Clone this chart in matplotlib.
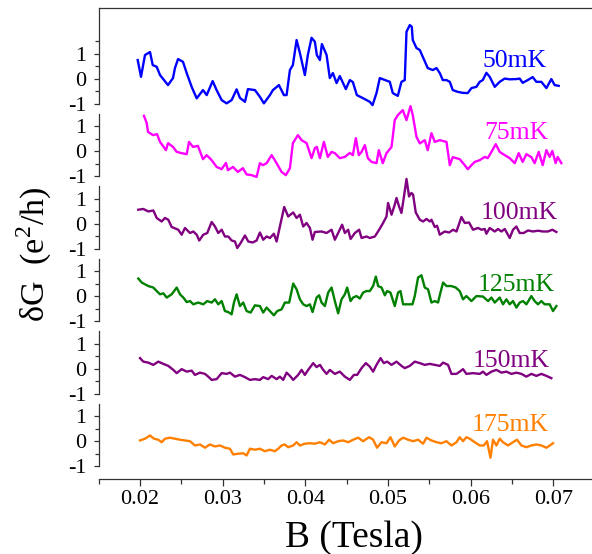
import matplotlib
matplotlib.use("Agg")
import matplotlib.pyplot as plt
from matplotlib.ticker import FixedLocator, FormatStrFormatter

# conductance fluctuation traces, one per temperature (B in tesla, dG in e^2/h)
b_50 = [0.01972, 0.02012, 0.02060, 0.02121, 0.02154, 0.02202, 0.02242, 0.02339, 0.02399, 0.02423,
        0.02460, 0.02520, 0.02565, 0.02625, 0.02686, 0.02762, 0.02807, 0.02879, 0.02927, 0.02988,
        0.03048, 0.03109, 0.03169, 0.03209, 0.03270, 0.03306, 0.03391, 0.03451, 0.03499, 0.03572,
        0.03608, 0.03681, 0.03741, 0.03774, 0.03814, 0.03850, 0.03895, 0.03935, 0.03995, 0.04031,
        0.04076, 0.04116, 0.04140, 0.04177, 0.04201, 0.04258, 0.04297, 0.04334, 0.04379, 0.04418,
        0.04491, 0.04539, 0.04576, 0.04624, 0.04697, 0.04781, 0.04814, 0.04862, 0.04902, 0.05023,
        0.05059, 0.05120, 0.05164, 0.05204, 0.05225, 0.05265, 0.05289, 0.05301, 0.05346, 0.05386,
        0.05422, 0.05482, 0.05543, 0.05588, 0.05628, 0.05664, 0.05709, 0.05749, 0.05785, 0.05845,
        0.05906, 0.05966, 0.06011, 0.06071, 0.06111, 0.06148, 0.06192, 0.06232, 0.06293, 0.06353,
        0.06414, 0.06474, 0.06555, 0.06595, 0.06631, 0.06692, 0.06752, 0.06797, 0.06857, 0.06918,
        0.06978, 0.07018, 0.07067]
dg_50 = [0.74, 0.07, 0.94, 1.06, 0.54, 0.47, 0.14, -0.26, 0.02, 0.42,
         0.78, 0.67, 0.22, -0.33, -0.79, -0.46, -0.66, -0.10, -0.46, -0.86,
         -0.99, -0.86, -0.43, -0.77, -0.93, -0.42, -0.46, -0.73, -0.99, -0.66,
         -0.46, -0.26, -0.66, -0.66, 0.34, 0.54, 1.54, 1.02, 0.14, 0.94,
         1.63, 1.47, 0.94, 0.74, 1.38, 0.94, 0.02, 0.22, -0.18, 0.10,
         -0.42, -0.06, -0.14, -0.66, -0.78, -0.93, -1.06, -0.58, 0.02, -0.13,
         -0.58, -0.69, -0.13, -0.06, 1.87, 2.14, 2.07, 1.54, 1.22, 1.14,
         0.87, 0.42, 0.34, 0.42, 0.22, -0.06, -0.06, -0.13, -0.46, -0.53,
         -0.57, -0.58, -0.38, -0.33, -0.13, -0.06, 0.23, 0.07, -0.33, -0.13,
         0.00, -0.03, -0.02, 0.00, -0.17, -0.06, 0.06, -0.13, -0.13, -0.38,
         -0.02, -0.26, -0.29]

b_75 = [0.02048, 0.02081, 0.02097, 0.02157, 0.02206, 0.02242, 0.02314, 0.02339, 0.02399, 0.02444,
        0.02504, 0.02565, 0.02593, 0.02641, 0.02701, 0.02762, 0.02807, 0.02867, 0.02927, 0.02988,
        0.03040, 0.03064, 0.03125, 0.03185, 0.03245, 0.03290, 0.03351, 0.03411, 0.03451, 0.03487,
        0.03532, 0.03593, 0.03653, 0.03713, 0.03765, 0.03814, 0.03850, 0.03911, 0.03955, 0.04016,
        0.04076, 0.04116, 0.04140, 0.04177, 0.04225, 0.04273, 0.04318, 0.04358, 0.04418, 0.04479,
        0.04539, 0.04576, 0.04612, 0.04648, 0.04681, 0.04721, 0.04757, 0.04802, 0.04862, 0.04890,
        0.04938, 0.04983, 0.05044, 0.05083, 0.05120, 0.05180, 0.05225, 0.05273, 0.05301, 0.05346,
        0.05386, 0.05446, 0.05482, 0.05527, 0.05567, 0.05628, 0.05709, 0.05749, 0.05785, 0.05869,
        0.05930, 0.05966, 0.06011, 0.06051, 0.06111, 0.06172, 0.06208, 0.06253, 0.06305, 0.06353,
        0.06414, 0.06474, 0.06535, 0.06583, 0.06631, 0.06676, 0.06736, 0.06776, 0.06825, 0.06873,
        0.06918, 0.06958, 0.06990, 0.07030, 0.07054, 0.07099]
dg_75 = [1.41, 1.12, 0.77, 0.64, 0.68, 0.37, 0.04, 0.32, 0.17, -0.03,
         -0.08, -0.12, 0.37, 0.17, 0.21, -0.32, -0.16, -0.36, -0.63, -0.72,
         -0.47, -0.76, -0.63, -0.83, -0.68, -0.93, -0.96, -1.03, -0.48, -0.56,
         -0.48, -0.16, -0.48, -0.83, -0.96, -0.68, 0.32, 0.64, 0.44, 0.32,
         -0.28, 0.12, 0.17, -0.28, 0.37, -0.23, -0.03, -0.08, -0.28, -0.23,
         -0.07, -0.16, 0.52, -0.16, -0.03, 0.24, -0.28, -0.43, -0.48, 0.04,
         -0.48, -0.08, 0.17, 1.24, 1.44, 1.64, 1.24, 1.80, 1.44, 0.57,
         0.31, 0.44, 0.04, 0.72, 0.37, 0.44, 0.37, -0.56, -0.24, -0.32,
         -0.56, -0.72, -0.56, -0.43, -0.36, -0.23, -0.28, -0.03, 0.28, -0.03,
         -0.16, -0.28, -0.48, -0.08, -0.43, -0.12, -0.24, -0.48, -0.03, -0.56,
         0.04, -0.23, 0.01, -0.48, -0.23, -0.48]

b_100 = [0.01979, 0.02040, 0.02100, 0.02161, 0.02202, 0.02262, 0.02302, 0.02342, 0.02383, 0.02463,
         0.02504, 0.02544, 0.02605, 0.02645, 0.02686, 0.02717, 0.02765, 0.02814, 0.02867, 0.02907,
         0.02947, 0.02988, 0.03028, 0.03068, 0.03109, 0.03149, 0.03177, 0.03218, 0.03270, 0.03310,
         0.03363, 0.03411, 0.03451, 0.03491, 0.03532, 0.03572, 0.03620, 0.03653, 0.03693, 0.03745,
         0.03793, 0.03854, 0.03895, 0.03935, 0.03975, 0.04016, 0.04056, 0.04088, 0.04116, 0.04197,
         0.04258, 0.04318, 0.04358, 0.04398, 0.04446, 0.04479, 0.04519, 0.04548, 0.04600, 0.04652,
         0.04681, 0.04741, 0.04781, 0.04842, 0.04894, 0.04942, 0.04983, 0.05002, 0.05044, 0.05083,
         0.05104, 0.05135, 0.05164, 0.05192, 0.05225, 0.05256, 0.05285, 0.05305, 0.05337, 0.05386,
         0.05426, 0.05467, 0.05507, 0.05527, 0.05567, 0.05595, 0.05628, 0.05688, 0.05740, 0.05789,
         0.05830, 0.05890, 0.05930, 0.05982, 0.06030, 0.06091, 0.06132, 0.06172, 0.06192, 0.06232,
         0.06293, 0.06333, 0.06374, 0.06414, 0.06474, 0.06514, 0.06555, 0.06595, 0.06643, 0.06695,
         0.06756, 0.06816, 0.06877, 0.06937, 0.06990, 0.07039]
dg_100 = [0.56, 0.59, 0.49, 0.53, 0.23, 0.09, 0.23, 0.16, -0.13, -0.24,
          -0.44, -0.17, -0.37, -0.31, -0.44, -0.67, -0.44, -0.37, 0.07, -0.11,
          -0.37, -0.24, -0.51, -0.51, -0.67, -0.71, -0.97, -0.77, -0.47, -0.71,
          -0.75, -0.67, -0.35, -0.64, -0.51, -0.57, -0.40, -0.71, -0.11, 0.67,
          0.29, 0.45, 0.23, 0.36, -0.11, 0.03, -0.17, -0.64, -0.33, -0.31,
          -0.37, -0.24, -0.64, -0.37, -0.04, -0.37, -0.24, -0.61, -0.37, -0.24,
          -0.57, -0.51, -0.57, -0.51, -0.24, 0.03, 0.29, 0.83, 0.36, 0.76,
          1.03, 0.69, 0.43, 1.03, 1.79, 1.09, 1.23, 1.16, 0.45, 0.16,
          0.09, 0.19, 0.09, 0.16, -0.13, -0.08, -0.44, -0.31, -0.35, -0.24,
          -0.31, 0.27, 0.03, 0.05, -0.24, -0.17, -0.24, -0.21, -0.40, -0.17,
          -0.31, -0.21, -0.31, -0.21, -0.57, -0.24, -0.11, -0.37, -0.37, -0.27,
          -0.31, -0.28, -0.31, -0.31, -0.24, -0.33]

b_125 = [0.01979, 0.02021, 0.02060, 0.02100, 0.02161, 0.02202, 0.02242, 0.02282, 0.02323, 0.02383,
         0.02444, 0.02484, 0.02524, 0.02565, 0.02605, 0.02645, 0.02705, 0.02765, 0.02814, 0.02867,
         0.02907, 0.02947, 0.02988, 0.03028, 0.03068, 0.03109, 0.03137, 0.03169, 0.03209, 0.03249,
         0.03290, 0.03339, 0.03391, 0.03451, 0.03491, 0.03532, 0.03572, 0.03620, 0.03660, 0.03713,
         0.03753, 0.03805, 0.03854, 0.03895, 0.03935, 0.03975, 0.04016, 0.04056, 0.04088, 0.04137,
         0.04168, 0.04197, 0.04237, 0.04277, 0.04318, 0.04358, 0.04398, 0.04439, 0.04479, 0.04507,
         0.04548, 0.04579, 0.04620, 0.04660, 0.04700, 0.04741, 0.04781, 0.04821, 0.04854, 0.04882,
         0.04923, 0.04963, 0.04990, 0.05031, 0.05083, 0.05123, 0.05152, 0.05184, 0.05244, 0.05297,
         0.05325, 0.05365, 0.05406, 0.05446, 0.05486, 0.05527, 0.05567, 0.05607, 0.05636, 0.05668,
         0.05709, 0.05769, 0.05821, 0.05869, 0.05909, 0.05950, 0.06011, 0.06071, 0.06151, 0.06212,
         0.06253, 0.06293, 0.06353, 0.06393, 0.06434, 0.06474, 0.06514, 0.06555, 0.06595, 0.06635,
         0.06676, 0.06736, 0.06776, 0.06816, 0.06857, 0.06897, 0.06958, 0.06998, 0.07039]
dg_125 = [0.71, 0.55, 0.48, 0.41, 0.35, 0.21, 0.08, 0.12, -0.05, 0.08,
          0.35, 0.08, -0.05, -0.23, -0.19, -0.32, -0.25, -0.32, -0.19, -0.25,
          -0.12, -0.32, -0.19, -0.59, -0.63, -0.72, -0.25, 0.08, -0.39, -0.25,
          -0.59, -0.65, -0.36, -0.39, -0.65, -0.45, -0.59, -0.76, -0.59, -0.52,
          -0.25, -0.25, 0.51, 0.28, -0.12, -0.32, -0.39, -0.32, -0.63, -0.05,
          0.04, -0.25, -0.39, 0.15, 0.35, -0.19, -0.68, -0.12, 0.08, 0.35,
          -0.19, -0.05, 0.01, -0.09, 0.15, 0.21, 0.21, 0.41, 0.79, 0.41,
          0.35, 0.04, 0.21, 0.15, -0.39, 0.15, 0.21, -0.32, -0.32, -0.32,
          0.01, 0.75, 0.84, 0.35, 0.28, -0.25, -0.19, -0.25, 0.15, 0.55,
          0.41, 0.41, 0.35, 0.21, -0.12, 0.01, -0.19, 0.01, -0.01, -0.19,
          -0.05, -0.25, -0.05, -0.32, -0.12, -0.32, -0.19, -0.45, -0.25, -0.19,
          -0.32, 0.01, -0.19, -0.32, -0.19, -0.32, -0.32, -0.59, -0.39]

b_150 = [0.02000, 0.02040, 0.02100, 0.02161, 0.02221, 0.02282, 0.02342, 0.02403, 0.02444, 0.02504,
         0.02565, 0.02625, 0.02665, 0.02726, 0.02786, 0.02826, 0.02867, 0.02927, 0.02988, 0.03048,
         0.03088, 0.03149, 0.03209, 0.03270, 0.03330, 0.03391, 0.03451, 0.03491, 0.03551, 0.03593,
         0.03653, 0.03693, 0.03733, 0.03774, 0.03814, 0.03854, 0.03914, 0.03955, 0.03995, 0.04035,
         0.04096, 0.04137, 0.04177, 0.04217, 0.04258, 0.04297, 0.04358, 0.04418, 0.04479, 0.04539,
         0.04588, 0.04628, 0.04681, 0.04733, 0.04781, 0.04821, 0.04862, 0.04911, 0.04950, 0.04990,
         0.05044, 0.05104, 0.05164, 0.05204, 0.05265, 0.05325, 0.05386, 0.05446, 0.05507, 0.05567,
         0.05628, 0.05668, 0.05728, 0.05769, 0.05830, 0.05869, 0.05909, 0.05950, 0.06030, 0.06111,
         0.06151, 0.06192, 0.06253, 0.06313, 0.06374, 0.06434, 0.06495, 0.06555, 0.06616, 0.06676,
         0.06736, 0.06797, 0.06857, 0.06918, 0.06978]
dg_150 = [0.43, 0.29, 0.25, 0.16, 0.29, 0.20, 0.12, -0.04, -0.17, -0.01,
          -0.11, -0.07, -0.24, -0.15, -0.20, -0.31, -0.44, -0.41, -0.17, -0.20,
          -0.15, -0.31, -0.24, -0.33, -0.44, -0.41, -0.44, -0.33, -0.41, -0.28,
          -0.41, -0.31, -0.44, -0.15, -0.28, -0.44, -0.24, -0.04, -0.24, -0.04,
          0.23, 0.07, 0.16, -0.04, -0.20, -0.04, -0.20, -0.11, -0.31, -0.44,
          -0.24, -0.24, 0.03, 0.23, 0.09, -0.11, 0.16, 0.43, 0.23, 0.29,
          0.16, 0.29, 0.12, 0.03, 0.12, 0.29, 0.23, 0.16, 0.20, 0.16,
          0.12, 0.25, 0.16, -0.20, -0.20, -0.11, -0.01, -0.20, -0.17, -0.20,
          -0.11, -0.24, -0.11, -0.04, -0.15, -0.11, -0.20, -0.15, -0.20, -0.31,
          -0.20, -0.28, -0.20, -0.28, -0.37]

b_175 = [0.02000, 0.02060, 0.02121, 0.02169, 0.02221, 0.02262, 0.02302, 0.02363, 0.02423, 0.02484,
         0.02544, 0.02605, 0.02665, 0.02726, 0.02786, 0.02846, 0.02907, 0.02967, 0.03028, 0.03088,
         0.03128, 0.03189, 0.03249, 0.03290, 0.03330, 0.03391, 0.03451, 0.03511, 0.03572, 0.03632,
         0.03672, 0.03713, 0.03753, 0.03793, 0.03854, 0.03895, 0.03935, 0.03995, 0.04056, 0.04116,
         0.04177, 0.04237, 0.04289, 0.04337, 0.04398, 0.04458, 0.04519, 0.04579, 0.04640, 0.04700,
         0.04773, 0.04821, 0.04869, 0.04923, 0.04983, 0.05031, 0.05083, 0.05135, 0.05184, 0.05244,
         0.05305, 0.05365, 0.05426, 0.05467, 0.05527, 0.05588, 0.05648, 0.05709, 0.05769, 0.05830,
         0.05869, 0.05909, 0.05950, 0.05990, 0.06051, 0.06111, 0.06160, 0.06200, 0.06241, 0.06272,
         0.06313, 0.06353, 0.06393, 0.06454, 0.06514, 0.06562, 0.06616, 0.06676, 0.06736, 0.06797,
         0.06857, 0.06918, 0.06978, 0.06998]
dg_175 = [0.04, 0.11, 0.24, 0.11, 0.07, -0.03, 0.11, 0.15, 0.11, 0.07,
          0.04, 0.01, -0.16, -0.12, -0.25, -0.12, -0.20, -0.16, -0.25, -0.29,
          -0.52, -0.49, -0.47, -0.56, -0.29, -0.33, -0.29, -0.39, -0.33, -0.39,
          -0.29, -0.16, -0.12, -0.23, -0.16, -0.03, -0.16, -0.09, -0.07, -0.09,
          -0.03, -0.12, 0.07, -0.07, 0.01, 0.04, -0.03, 0.07, 0.15, 0.01,
          0.17, 0.07, -0.25, -0.03, -0.07, 0.17, -0.20, 0.04, 0.15, 0.07,
          0.01, 0.07, -0.09, 0.15, 0.04, -0.03, -0.07, 0.01, -0.16, -0.03,
          0.17, 0.01, 0.17, 0.11, -0.03, -0.16, -0.16, 0.01, -0.65, 0.07,
          -0.16, 0.11, -0.03, -0.16, -0.03, 0.07, -0.16, -0.23, -0.16, -0.12,
          -0.16, -0.25, -0.12, -0.07]

temps = ["50mK", "75mK", "100mK", "125mK", "150mK", "175mK"]
fields = [b_50, b_75, b_100, b_125, b_150, b_175]
signals = [dg_50, dg_75, dg_100, dg_125, dg_150, dg_175]
colors = ["#0000ff", "#ff00ff", "#800080", "#008000", "#800080", "#ff8000"]

# where each temperature tag sits inside its own panel (B, dG)
tag_b = [0.06529, 0.06553, 0.06595, 0.06555, 0.06495, 0.06484]
tag_dg = [0.47, 0.47, 0.19, 0.21, 0.07, 0.41]

plt.rcParams["font.family"] = ["Liberation Serif", "DejaVu Serif"]
plt.rcParams["mathtext.fontset"] = "custom"
plt.rcParams["mathtext.rm"] = "Liberation Serif"
plt.rcParams["axes.unicode_minus"] = False

fig = plt.figure(figsize=(5.92, 5.54), dpi=100)
ylo, yhi, ytop = -1.5, 1.4, 2.82
ratios = [ytop - ylo] + [yhi - ylo] * 5
axes = fig.subplots(
    6, 1, sharex=True,
    gridspec_kw=dict(height_ratios=ratios, hspace=0.0,
                     left=98.7 / 592, right=1.0, bottom=75 / 554, top=546 / 554),
)

spine_col = "#333333"
for i, ax in enumerate(axes):
    ax.patch.set_visible(False)
    ax.plot(fields[i], signals[i], color=colors[i], lw=1.7, clip_on=False)
    ax.text(tag_b[i], tag_dg[i], temps[i], color=colors[i], fontsize=18.5,
            ha="center", va="baseline")

    top = ytop if i == 0 else yhi
    ax.set_ylim(ylo, top)
    ax.yaxis.set_major_locator(FixedLocator([-1, 0, 1]))
    ax.yaxis.set_minor_locator(FixedLocator([-0.5, 0.5, 1.5]))
    ax.yaxis.set_major_formatter(FormatStrFormatter("%d"))
    ax.tick_params(axis="y", which="major", direction="out", length=3.5, width=0.9,
                   pad=5.5, labelsize=16, color=spine_col)
    ax.tick_params(axis="y", which="minor", direction="out", length=3, width=0.9,
                   color=spine_col)

    for side in ["right", "bottom", "top"]:
        ax.spines[side].set_visible(False)
    ax.spines["left"].set_bounds(-1, top if i == 0 else 1.5)
    ax.spines["left"].set_linewidth(0.9)
    ax.spines["left"].set_color(spine_col)

    if i < 5:
        ax.tick_params(axis="x", which="both", bottom=False, labelbottom=False)

axes[0].spines["top"].set_visible(True)
axes[0].spines["top"].set_linewidth(0.9)
axes[0].spines["top"].set_color(spine_col)

bottom_ax = axes[-1]
bottom_ax.spines["bottom"].set_visible(True)
bottom_ax.spines["bottom"].set_linewidth(0.9)
bottom_ax.spines["bottom"].set_color(spine_col)
bottom_ax.set_xlim(0.015, 0.0747)
bottom_ax.xaxis.set_major_locator(FixedLocator([0.02, 0.03, 0.04, 0.05, 0.06, 0.07]))
bottom_ax.xaxis.set_minor_locator(FixedLocator([0.015, 0.025, 0.035, 0.045, 0.055, 0.065]))
bottom_ax.xaxis.set_major_formatter(FormatStrFormatter("%.2f"))
bottom_ax.tick_params(axis="x", which="major", direction="out", length=5, width=0.9,
                      pad=3, labelsize=16, color=spine_col)
bottom_ax.tick_params(axis="x", which="minor", direction="out", length=3.5, width=0.9,
                      color=spine_col)

fig.text(354 / 592, 1 - 547 / 554, "B (Tesla)", fontsize=27, ha="center", va="baseline")
fig.text(34 / 592, 1 - 254 / 554, "δG  (e$^2$/h)", fontsize=24.5, rotation=90,
         ha="center", va="center")

fig.savefig("out.png", dpi=100)
